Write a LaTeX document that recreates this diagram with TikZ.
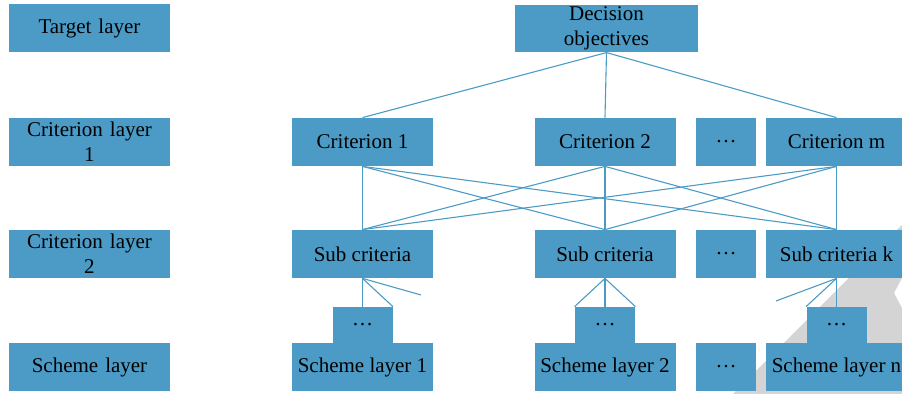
\documentclass[tikz,border=0pt]{standalone}
\usepackage{fontspec}
\setmainfont{Liberation Serif}
\usepackage{xcolor}
\usetikzlibrary{positioning}
\definecolor{LayerBlue}{HTML}{4B9BC6}
\definecolor{MarkGrey}{HTML}{D4D4D4}

\begin{document}
\begin{tikzpicture}[x=0.5pt, y=-0.5pt,
                    every node/.style={fill=LayerBlue, align=center, inner sep=1pt,
                                       font=\fontsize{10.5}{12.5}\selectfont,
                                       minimum width=70.5pt, minimum height=24pt},
                    layer/.style={minimum width=80.5pt, text width=78pt},
                    dots/.style={minimum width=30pt},
                    subdots/.style={minimum width=30pt, minimum height=18pt},
                    link/.style={draw=LayerBlue, line width=0.55pt}]
\path[use as bounding box] (0,0) rectangle (902,394);
% watermark in the corner
\fill[MarkGrey] (733,394) -- (902,225) -- (902,278) -- (894,293)
  -- (902,308) -- (902,394) -- cycle;
% layer names
\node[layer] (target) at (89.5,28) {Target layer};
\node[layer] (critA) at (89.5,142) {Criterion layer\\1};
\node[layer] (critB) at (89.5,254) {Criterion layer\\2};
\node[layer] (scheme) at (89.5,367) {Scheme layer};
% target
\node[minimum width=91.5pt, minimum height=23.5pt] (dec) at (606.5,28.5) {Decision\\objectives};
% criteria
\node (c1) at (362.5,142) {Criterion 1};
\node (c2) at (605,142) {Criterion 2};
\node[dots] (cdots) at (726,142) {\dots};
\node (cm) at (836.5,142) {Criterion m};
% sub criteria
\node (s1) at (362.5,254) {Sub criteria};
\node (s2) at (605,254) {Sub criteria};
\node[dots] (sdots) at (726,254) {\dots};
\node (sk) at (836.5,254) {Sub criteria k};
% schemes
\node[subdots] (d1) at (362.5,325) {\dots};
\node[subdots] (d2) at (605,325) {\dots};
\node[subdots] (dn) at (836.5,325) {\dots};
\node (h1) at (362.5,367) {Scheme layer 1};
\node (h2) at (605,367) {Scheme layer 2};
\node[dots] (hdots) at (726,367) {\dots};
\node (hn) at (836.5,367) {Scheme layer n};
\coordinate (free1) at (421,295);
\coordinate (freek) at (776,301);
\draw[link] (dec.south) -- (c1.north);
\draw[link] (dec.south) -- (c2.north);
\draw[link] (dec.south) -- (cm.north);
\foreach \c in {c1,c2,cm}
  \foreach \s in {s1,s2,sk}
    \draw[link] (\c.south) -- (\s.north);
\draw[link] (s1.south) -- (d1.north);
\draw[link] (s1.south) -- (d1.north east);
\draw[link] (s1.south) -- (free1);
\draw[link] (s2.south) -- (d2.north west);
\draw[link] (s2.south) -- (d2.north);
\draw[link] (s2.south) -- (d2.north east);
\draw[link] (sk.south) -- (freek);
\draw[link] (sk.south) -- (dn.north west);
\draw[link] (sk.south) -- (dn.north);
\end{tikzpicture}
\end{document}
